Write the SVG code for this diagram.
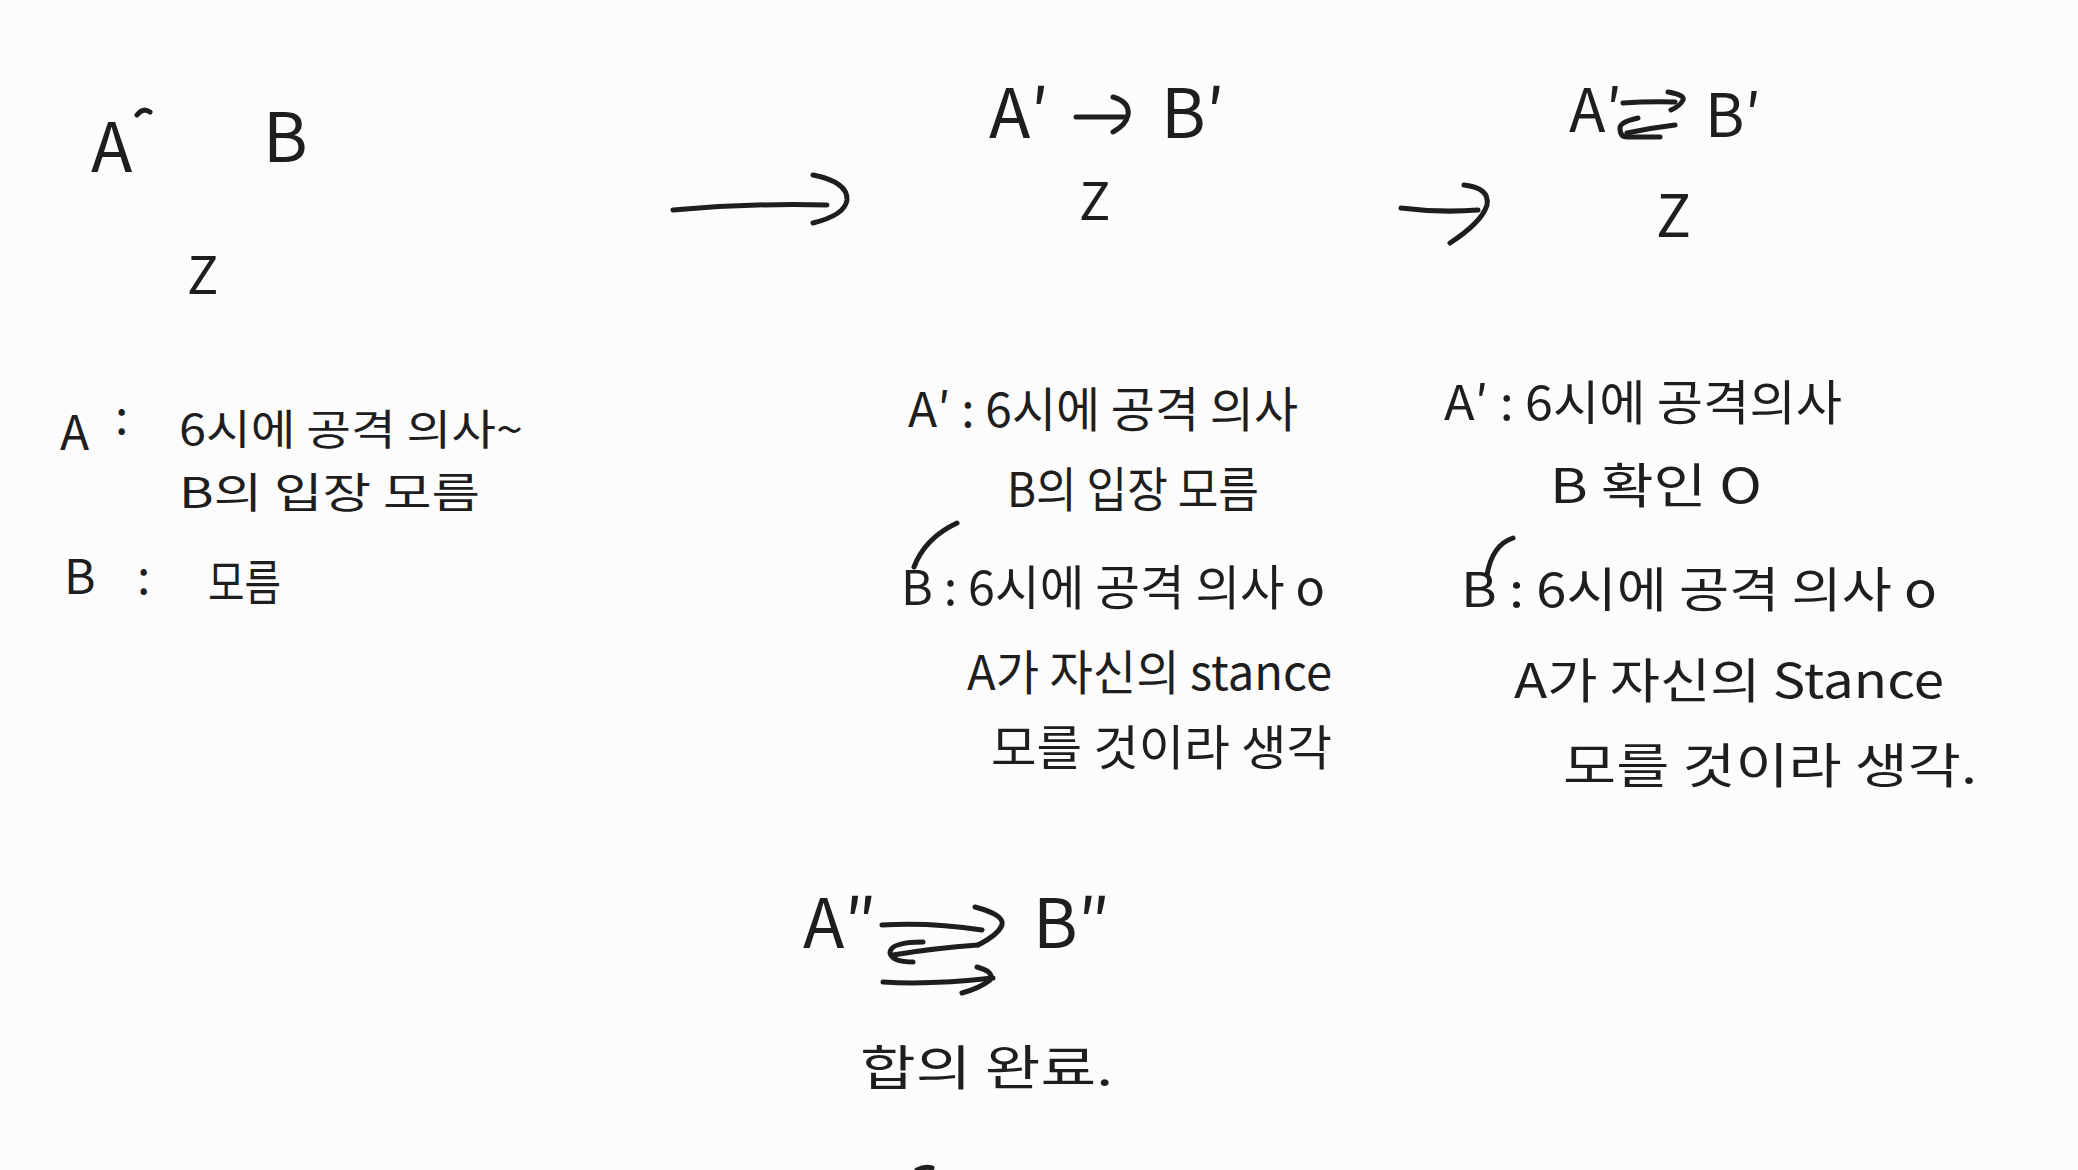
<svg xmlns="http://www.w3.org/2000/svg" width="2078" height="1170" viewBox="0 0 2078 1170">
<style>
text{font-family:"Noto Sans CJK KR","Noto Sans",sans-serif;fill:#1e1e1e}
.b{font-size:48px}
.s{font-size:42px}
.big{font-size:68px}
.stroke{fill:none;stroke:#1e1e1e;stroke-width:5;stroke-linecap:round;stroke-linejoin:round}
</style>
<rect width="2078" height="1170" fill="#fcfcfc"/>
<g id="state1">
<text class="big" x="91" y="172">A</text>
<path class="stroke" d="M137,115 Q143,107 150,112"/>
<text class="big" x="263" y="162">B</text>
<text x="187" y="294" font-size="52">Z</text>
</g>
<g id="notes1">
<text class="b" x="60" y="450">A</text>
<text class="b" x="115" y="434">:</text>
<text class="s" x="179" y="445" textLength="344" lengthAdjust="spacingAndGlyphs">6시에 공격 의사~</text>
<text class="s" x="179" y="508" textLength="301" lengthAdjust="spacingAndGlyphs">B의 입장 모름</text>
<text class="b" x="64" y="594">B</text>
<text class="b" x="137" y="594">:</text>
<text class="b" x="208" y="600" textLength="73" lengthAdjust="spacingAndGlyphs">모름</text>
</g>
<g id="state2">
<text class="big" x="989" y="138">A′</text>
<text class="big" x="1161" y="138">B′</text>
<text x="1079" y="220" font-size="52">Z</text>
</g>
<g id="state3">
<text x="1569" y="132" font-size="60">A′</text>
<text x="1705" y="137" font-size="60">B′</text>
<text x="1656" y="237" font-size="58">Z</text>
</g>
<g id="notes2">
<text class="b" x="908" y="427" textLength="390" lengthAdjust="spacingAndGlyphs">A′ : 6시에 공격 의사</text>
<text class="b" x="1007" y="507" textLength="252" lengthAdjust="spacingAndGlyphs">B의 입장 모름</text>
<path class="stroke" d="M914,567 Q925,538 957,523"/>
<text class="b" x="901" y="605" textLength="424" lengthAdjust="spacingAndGlyphs">B : 6시에 공격 의사 o</text>
<text class="b" x="967" y="690" textLength="365" lengthAdjust="spacingAndGlyphs">A가 자신의 stance</text>
<text class="b" x="991" y="765" textLength="341" lengthAdjust="spacingAndGlyphs">모를 것이라 생각</text>
</g>
<g id="notes3">
<text class="b" x="1444" y="420" textLength="398" lengthAdjust="spacingAndGlyphs">A′ : 6시에 공격의사</text>
<text class="b" x="1550" y="503" textLength="212" lengthAdjust="spacingAndGlyphs">B 확인 O</text>
<path class="stroke" d="M1487,575 Q1492,545 1513,538"/>
<text class="b" x="1461" y="607" textLength="476" lengthAdjust="spacingAndGlyphs">B : 6시에 공격 의사 o</text>
<text class="b" x="1514" y="698" textLength="430" lengthAdjust="spacingAndGlyphs">A가 자신의 Stance</text>
<text class="b" x="1563" y="783" textLength="414" lengthAdjust="spacingAndGlyphs">모를 것이라 생각.</text>
</g>
<g id="state4">
<text class="big" x="803" y="948">A″</text>
<text class="big" x="1033" y="948">B″</text>
<text class="b" x="860" y="1085" textLength="253" lengthAdjust="spacingAndGlyphs">합의 완료.</text>
</g>
<g id="connectors">
<path class="stroke" d="M673,210 Q750,203 827,205"/>
<path class="stroke" d="M813,175 Q848,182 847,200 Q845,215 813,223"/>
<path class="stroke" d="M1401,208 Q1440,213 1478,210"/>
<path class="stroke" d="M1464,185 Q1490,188 1487,205 Q1482,222 1450,243"/>
<path class="stroke" d="M1076,117 L1126,117"/>
<path class="stroke" d="M1113,97 Q1130,102 1128,115 Q1126,125 1113,132"/>
<path class="stroke" d="M1623,103 Q1650,101 1675,102"/>
<path class="stroke" d="M1668,92 Q1685,95 1683,100 Q1680,106 1671,110"/>
<path class="stroke" d="M1675,125 Q1650,128 1627,133"/>
<path class="stroke" d="M1638,118 Q1620,122 1620,128 Q1620,137 1627,137 L1660,137"/>
<path class="stroke" d="M882,925 Q930,922 982,930"/>
<path class="stroke" d="M975,907 Q1005,915 1002,925 Q998,935 978,945"/>
<path class="stroke" d="M978,945 Q935,948 893,955"/>
<path class="stroke" d="M923,942 Q890,942 890,953 Q892,962 913,962"/>
<path class="stroke" d="M883,982 Q930,985 993,978"/>
<path class="stroke" d="M977,967 Q995,972 990,980 Q980,988 962,993"/>
<path class="stroke" d="M917,1170 Q925,1166 932,1168"/>
</g>
</svg>
